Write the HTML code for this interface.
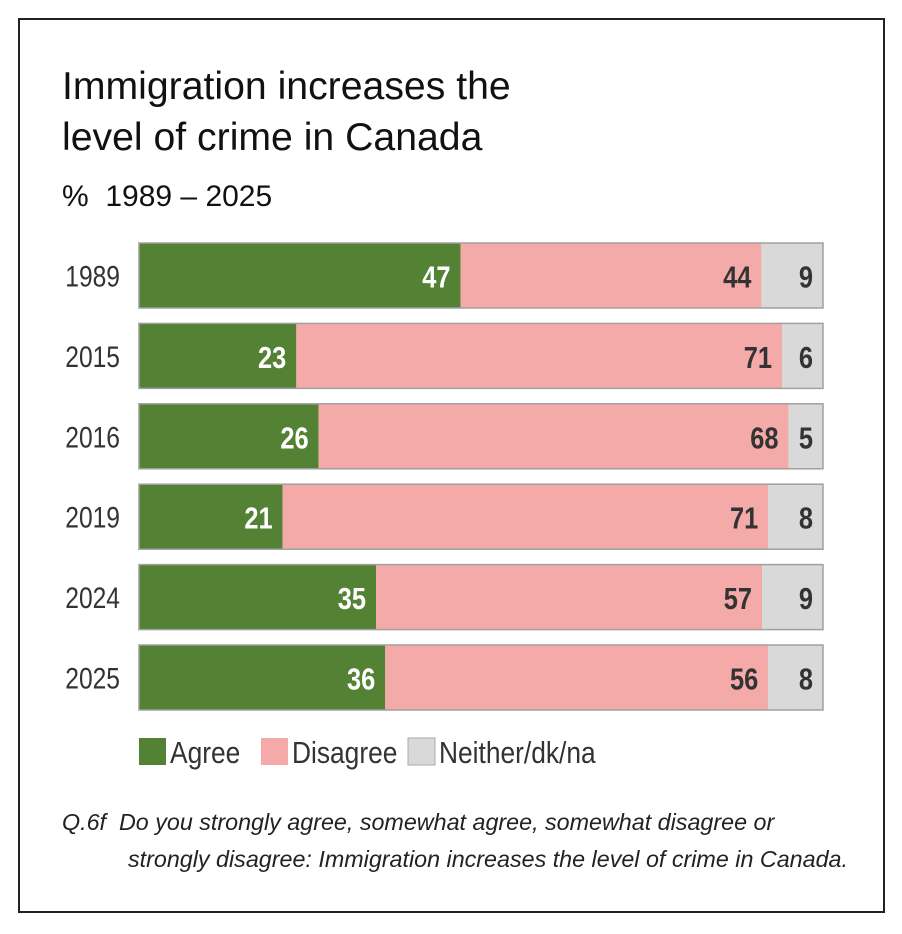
<!DOCTYPE html>
<html><head><meta charset="utf-8"><style>
body{margin:0;background:#fff;width:902px;height:934px;overflow:hidden;font-family:"Liberation Sans",sans-serif}
#frame{position:absolute;left:18px;top:18px;width:863px;height:891px;border:2px solid #222}
.t{position:absolute;color:#111;white-space:nowrap}
</style></head><body>
<div id="frame"></div>
<div class="t" style="left:62px;top:61px;font-size:39.2px;line-height:51px">Immigration increases the<br>level of crime in Canada</div>
<div class="t" style="left:62px;top:180px;font-size:30px">%&nbsp; 1989 – 2025</div>
<svg id="chart" width="902" height="934" style="position:absolute;left:0;top:0"></svg>
<div class="t" style="left:62px;top:804px;font-size:23.3px;font-style:italic;line-height:37px;color:#222">Q.6f&nbsp; Do you strongly agree, somewhat agree, somewhat disagree or<br><span style="padding-left:66px">strongly disagree: Immigration increases the level of crime in Canada.</span></div>
<script>
const years=["1989","2015","2016","2019","2024","2025"];
const agree=[47,23,26,21,35,36];
const disagree=[44,71,68,71,57,56];
const neither=[9,6,5,8,9,8];
const seriesNames=["Agree","Disagree","Neither/dk/na"];
const colors=["#548235","#f4aaa8","#d9d9d9"];
const svg=document.getElementById('chart');
const NS="http://www.w3.org/2000/svg";
const x0=139,x1=823,y0=243,pitch=80.4,bh=65;
function mk(t,a){const e=document.createElementNS(NS,t);for(const k in a)e.setAttribute(k,a[k]);svg.appendChild(e);return e;}
const xs=(v,tot)=>x0+v/tot*(x1-x0);
const yRow=i=>y0+i*pitch;
years.forEach((yr,i)=>{
 const vals=[agree[i],disagree[i],neither[i]];const tot=vals.reduce((a,b)=>a+b,0);
 const y=yRow(i);let c=0;
 const yl=mk('text',{x:120,y:y+bh/2+11,'text-anchor':'end','font-size':30,fill:'#333'});
 yl.setAttribute('transform',`translate(${120-120*0.82},0) scale(0.82,1)`);
 yl.textContent=yr;
 
 
 vals.forEach((v,j)=>{
  const a=xs(c,tot),b=xs(c+v,tot);c+=v;
  const r=mk('rect',{x:a,y:y,width:b-a,height:bh,fill:colors[j]});
  
  
  const lx=b-10;
  const t=mk('text',{x:lx,y:y+bh/2+12,'text-anchor':'end','font-size':31,'font-weight':'bold',fill:j==0?'#fff':'#333',transform:`translate(${lx*0.18},0) scale(0.82,1)`});
  t.textContent=v;
  
  
 });
 const o=mk('rect',{x:x0,y:y,width:x1-x0,height:bh,fill:'none',stroke:'#a0a0a0','stroke-width':1.5});
 
 
});
const lxs=[139,261,408];
seriesNames.forEach((n,j)=>{
 const r=mk('rect',{x:lxs[j],y:738,width:27,height:27,fill:colors[j],stroke:j==2?'#aaa':'none'});
 
 
 const tx=lxs[j]+31;
 const t=mk('text',{x:tx,y:763,'font-size':31,fill:'#333',transform:`translate(${tx*0.15},0) scale(0.85,1)`});
 t.textContent=n;
 
 
});
</script>
</body></html>
